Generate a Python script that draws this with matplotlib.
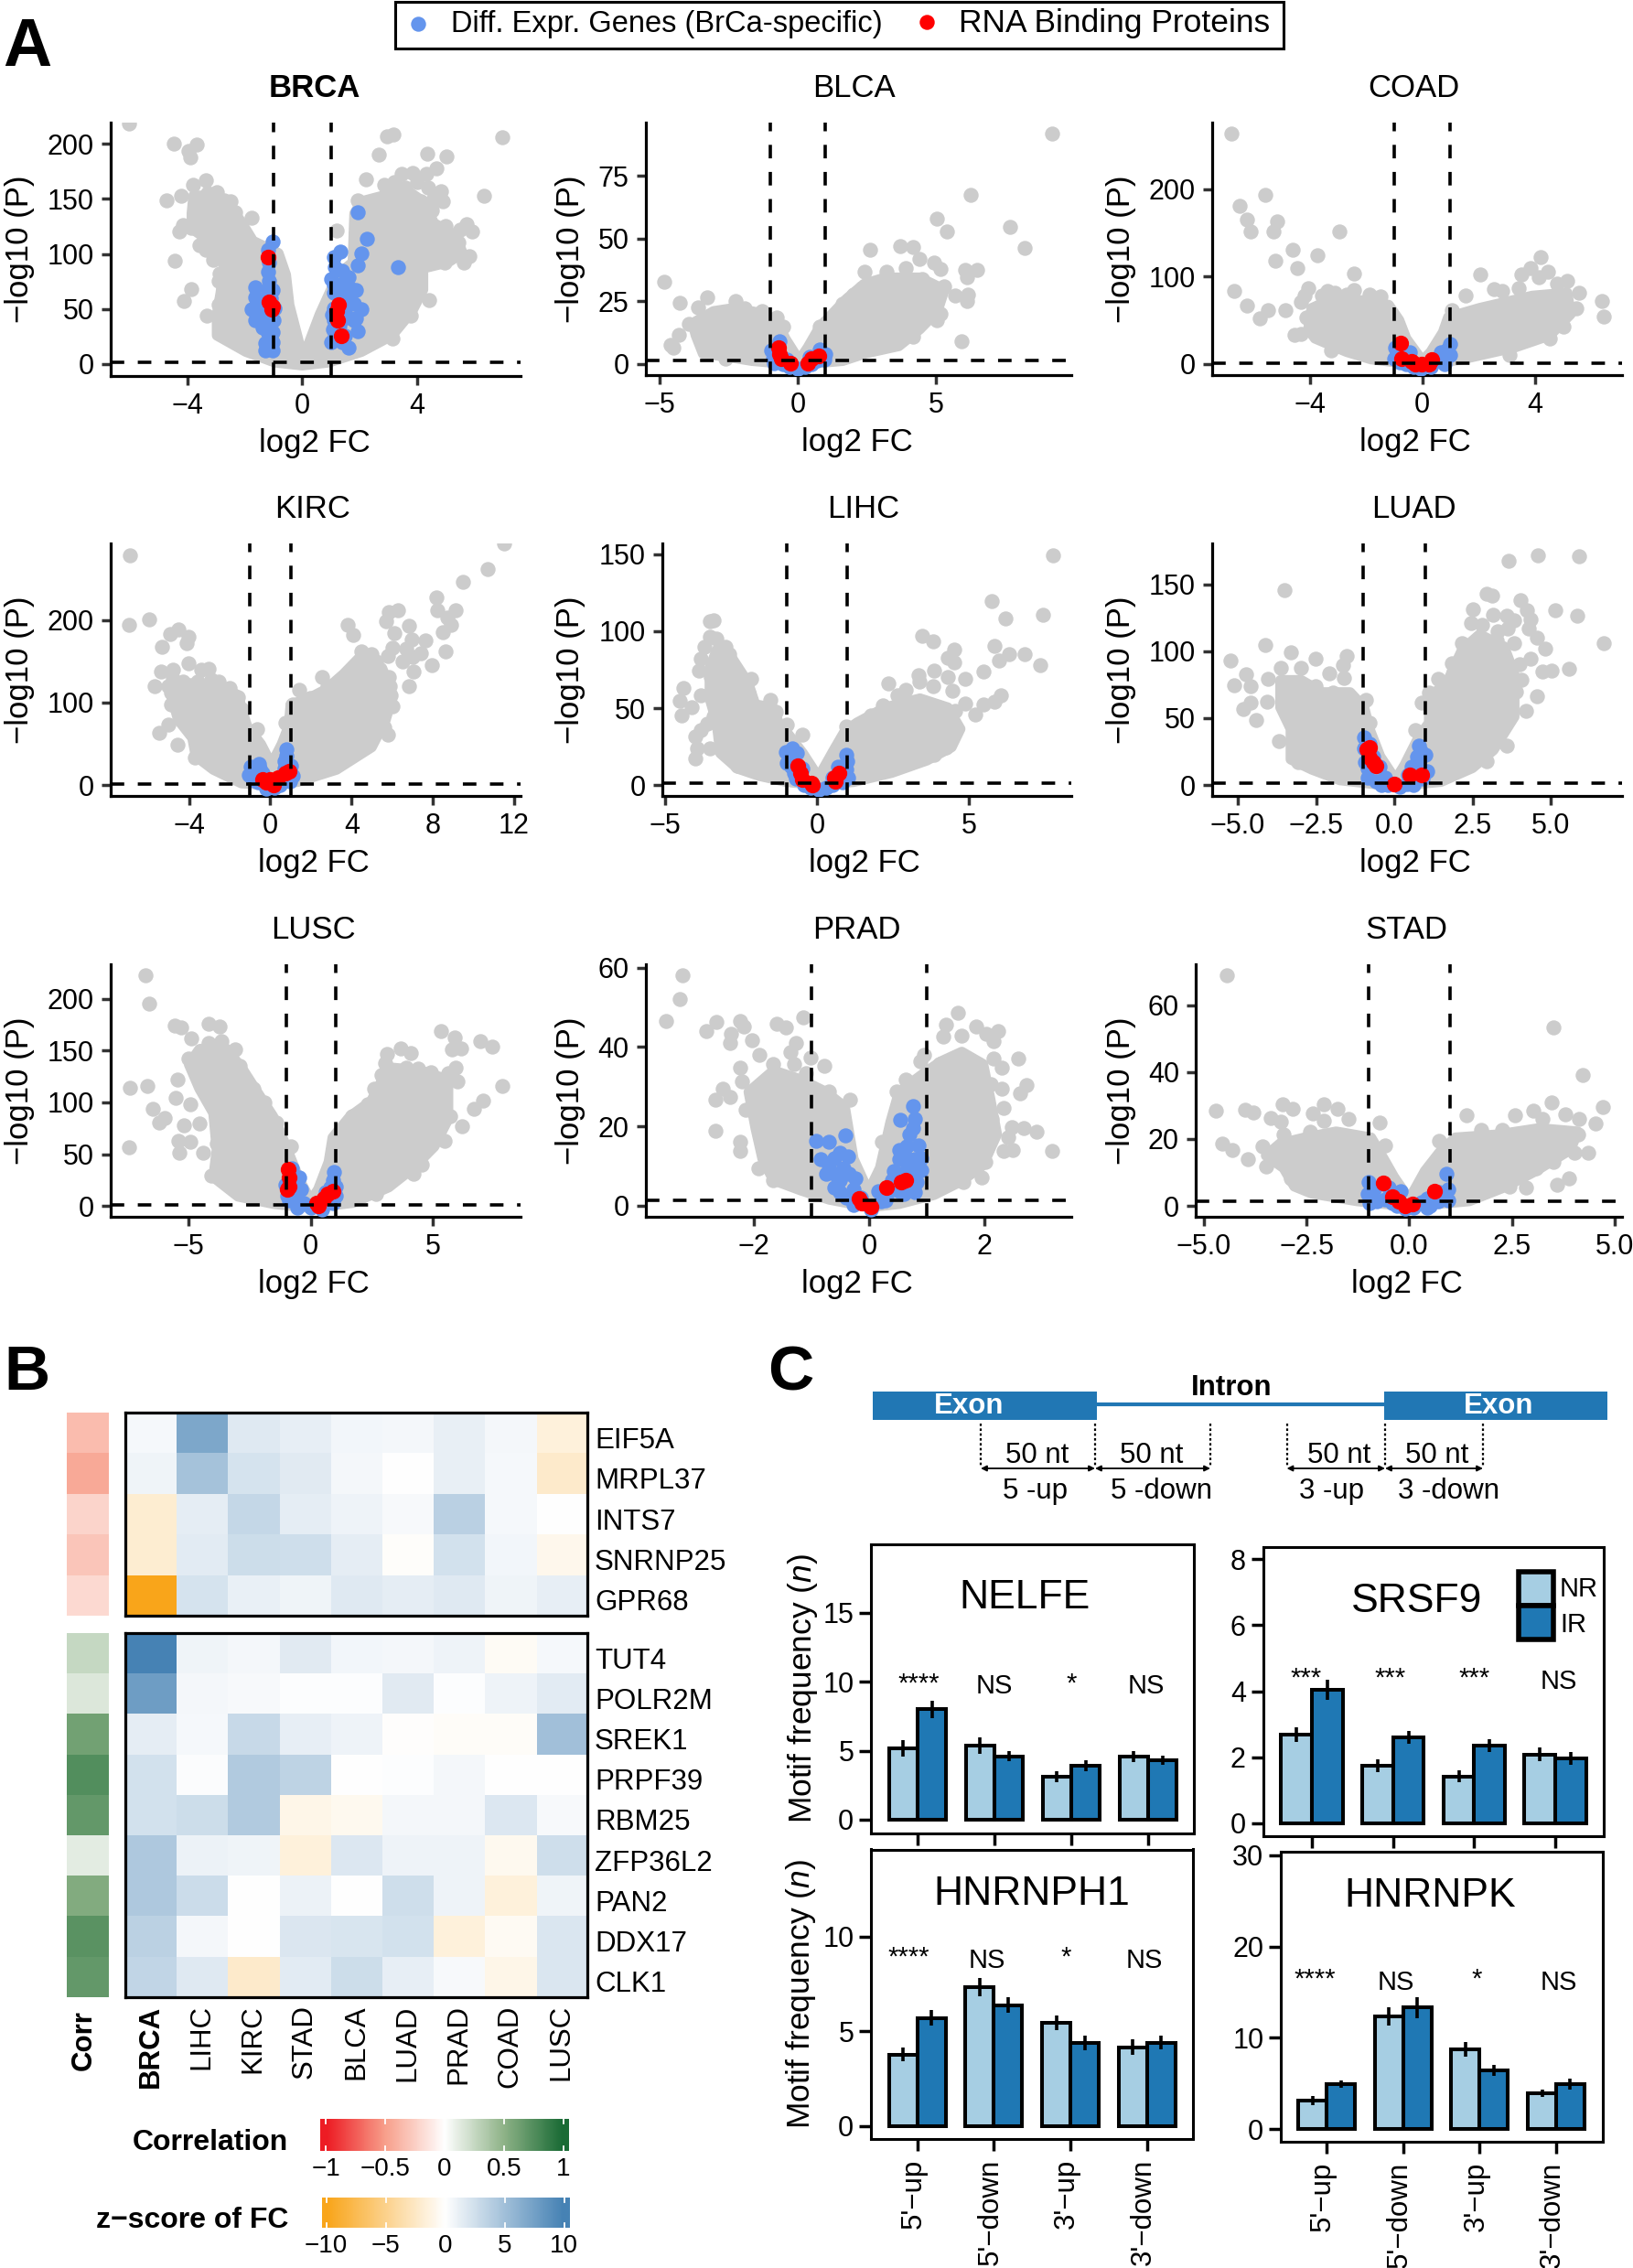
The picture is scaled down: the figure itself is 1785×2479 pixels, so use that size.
import matplotlib
matplotlib.use("Agg")
import matplotlib.pyplot as plt
import numpy as np
from matplotlib.colors import LinearSegmentedColormap
from matplotlib.patches import Rectangle
from matplotlib.transforms import ScaledTranslation

plt.rcParams['font.family'] = ['Liberation Sans', 'DejaVu Sans']
plt.rcParams['mathtext.fontset'] = 'custom'
plt.rcParams['mathtext.it'] = 'Liberation Sans:italic'
plt.rcParams['mathtext.rm'] = 'Liberation Sans'

W, H = 1785, 2479

# volcano data: body = outline of the dense cloud, gray = single points
brca_body = [(0.03,5),(-0.45,53.5),(-0.57,81),(-0.83,100.7),(-1.72,111.8),(-2.1,128),(-2.47,142),(-3.1,153),(-3.8,153),(-3.86,136.8),(-3.86,123),(-3.1,109),(-2.73,89.6),(-2.85,64.6),(-2.98,45),(-2.98,25.8),(-1.97,11),(-0.96,1.3),(0,-1.4),(0.93,1.3),(2.07,11),(3.14,25.8),(3.84,48),(4.22,67.4),(4.22,86.8),(5.1,92.4),(5.6,100.7),(5.35,117),(4.6,128),(4.22,147.8),(3.59,159),(2.83,153),(2.07,147.8),(1.82,136.8),(1.76,92.4),(1.24,81),(0.61,45)]
brca_gray = [(-6.04,218.6),(-4.47,200),(-3.67,199.7),(-3.96,194),(-3.9,188),(-3.38,166.7),(-3.8,163),(-4.24,153),(-4.75,148.7),(-2.98,156),(-2.73,149),(-2.35,138),(-1.78,132.6),(-4.18,126),(-3.87,124),(-3.36,103.5),(-4.46,93.8),(-3.89,68),(-4.14,57),(-3.33,43.8),(-2.92,53.5),(-2.92,75.7),(3.18,209),(2.95,207),(6.97,206),(2.68,190),(4.37,191),(5.04,188.6),(2.23,168),(2.85,163),(3.46,172.8),(3.86,174),(4.34,172.8),(4.68,177.5),(4.85,156.7),(6.33,153),(1.94,149),(3.71,147.8),(4.15,147.8),(4.53,139.5),(5.73,127),(5.92,120),(5.45,110),(5.82,98),(5.64,92),(4.97,92),(1.19,121.5),(1.88,118.7),(4.44,57.7),(3.78,43.8),(3.14,23),(3.2,165),(3.6,160),(4,165),(4.4,160),(4.6,150),(4.9,148),(5,125),(5.5,122),(4.8,110),(5.2,100),(4.5,100),(-3.3,155),(-3.5,150),(-2.5,148),(-4.3,120),(-3.6,108),(-3.1,95),(-2.9,82)]
brca_blue = [(-1.02,111),(-1.21,103.5),(-1.21,84),(-1.15,75.7),(-1.65,70),(-1.02,67.4),(-1.65,60.5),(-1.46,53.5),(-1.76,49.4),(-1.63,39.7),(-0.96,50.8),(-1.21,37),(-1.02,28.6),(-1.28,18.9),(-1.28,12),(-1.02,12),(-1.02,20),(-1.2,62),(-1.4,45),(-1.15,92),(-1.2,68),(-1.4,58),(-1.1,60),(-1.45,42),(-1.2,45),(-1,40),(-1.2,28),(-1.4,33),(1.92,137.6),(2.26,113.7),(2.07,100.7),(1.94,89.6),(3.33,88.2),(1.34,102),(1.12,97),(1.38,85),(1,77),(1.63,78.5),(1.88,67.4),(1.12,64.6),(1.57,57.7),(2.07,49.4),(1.12,50.8),(1.88,41),(1.94,30),(1.06,31),(1,20),(1.63,14.7),(1.38,20),(1.57,42),(1.12,39.7),(1.5,25.8),(1.4,70),(1.15,88),(1.35,72),(1.7,68),(1.1,72),(1.35,60),(1.8,55),(1.5,50),(1.8,40),(1.15,25),(1.3,35),(1.05,45)]
brca_red = [(-1.21,97.4),(-1.15,56.3),(-1.02,52),(-1.06,49.4),(1.25,53.5),(1.22,40),(1.19,48),(1.35,25.8)]

blca_body = [(0.05,1.5),(-0.45,10.2),(-0.77,17.5),(-1.41,20.5),(-2.29,22.4),(-3.05,21.1),(-3.81,16.3),(-3.69,11.4),(-3.43,4.1),(-2.67,3.1),(-1.66,1.3),(0,-0.3),(1.63,1.3),(2.46,4.3),(3.66,7.2),(4.42,13.9),(5.06,21.1),(5.31,29.7),(4.42,34.5),(3.16,34.5),(2.4,32),(1.76,26),(1.13,18.7),(0.8,15),(0.36,6.6)]
blca_gray = [(9.2,91.8),(6.26,67.3),(5.03,57.9),(5.41,52.8),(7.67,54.8),(8.2,46.3),(2.61,45.7),(3.71,47),(4.17,46.7),(4.4,41.8),(4.93,40.6),(5.15,37.9),(6.05,37.6),(6.48,37.6),(6.13,34.5),(2.43,36.7),(3.22,36.7),(3.92,38.2),(4.49,33.9),(5.31,30.9),(5,29.7),(5.69,27.5),(6.16,27.8),(6.13,25),(5.18,20),(5.03,17.5),(5.94,9.2),(4.17,10.8),(2.33,30.3),(2.02,27.8),(1.61,24.2),(0.81,15),(-4.83,32.7),(-4.28,24.6),(-3.28,26.6),(-3.62,22.6),(-3.94,15.9),(-4.32,11.7),(-4.61,7.8),(-4.49,6.6),(-2.8,20.5),(-2.26,25),(-1.91,22.4),(-1.28,21.1),(-0.77,18.7),(-0.52,15),(-2.61,2.3)]
blca_blue = [(-0.67,9),(-0.96,5.3),(-0.9,2.3),(-0.52,-0.1),(0,-1.9),(0.49,-0.1),(1,4.1),(0.81,6),(0.43,2.9),(-0.65,4.1),(-0.85,0.5),(-0.3,-1),(0.25,-1),(0.7,1.5),(0.95,2),(-0.4,2)]
blca_red = [(-0.71,6.6),(-0.67,4.1),(-0.58,2.3),(-0.27,0.5),(0.37,0.5),(0.49,2.3),(0.77,3.2)]

coad_body = [(0,4),(-0.57,29.3),(-0.82,50.3),(-1.19,67.7),(-2.06,73),(-3.31,73),(-3.93,64),(-4.05,39.8),(-3.81,29.3),(-2.69,14),(-1.82,5.5),(0,-1.5),(1.42,5.5),(3.28,19),(4.53,32.8),(5.27,57.2),(5.15,81.7),(3.91,78.2),(2.04,64.2),(0.92,53.8),(0.73,36.3),(0.29,13.6)]
coad_gray = [(-6.79,263.5),(-5.57,193.4),(-6.47,181),(-6.23,165.4),(-6.09,151.5),(-5.17,163),(-5.29,151.5),(-2.96,151.8),(-4.6,131.2),(-3.71,124.6),(-5.22,118.3),(-4.43,109.6),(-2.43,103.3),(-6.67,84),(-6.24,67),(-5.49,61.4),(-5.77,52),(-4.86,61.4),(-4.55,33.5),(-4.05,87),(-4.18,78),(-4.3,71),(-4.12,53.8),(-3.37,83.4),(-3.12,81.7),(-2.44,85),(-1.88,80),(-1.5,77.5),(-2.69,80),(-3.56,78.2),(-4.3,34.6),(-3.25,15.4),(4.19,122.5),(4.47,106),(4.15,99),(3.84,109.6),(3.53,102.6),(2.05,102.6),(1.54,78.9),(2.54,85.9),(2.85,83.4),(3.41,87),(4.78,92),(5.15,95),(5.56,81.7),(6.39,71.9),(6.43,54.5),(5.46,64),(1.04,61.4),(5.02,43.3),(4.53,29.3),(3.1,10)]
coad_blue = [(-0.95,18.8),(-1.01,6.6),(-0.45,13.6),(0.98,23),(0.98,10),(0.67,13.6),(0.42,3),(0.8,-0.3),(-0.57,-0.3),(-0.07,-5.6),(-0.8,2),(-0.3,-3),(0.3,-3),(0.6,5),(0.9,17),(-0.7,12)]
coad_red = [(-0.77,24),(-0.73,6.6),(-0.39,3),(-0.26,-0.3),(-0.01,-0.3),(0.24,-0.3),(0.32,4.9)]

kirc_body = [(0.05,25),(-0.46,49.5),(-1.15,71.7),(-1.42,93.9),(-1.59,108.7),(-2.46,121.6),(-4.02,123.5),(-4.88,108.7),(-4.54,79),(-3.84,57),(-3.67,34.8),(-2.81,18.6),(-1.42,2),(0,0),(1.35,3.8),(3.26,18.6),(4.99,45.8),(5.68,79),(6.03,108.7),(5.5,142),(4.47,156.7),(3.6,134.6),(2.74,116),(1.87,105),(1,97.6),(0.91,71.7),(0.56,49.5)]
kirc_gray = [(-6.93,278.7),(-6.96,193.7),(-5.96,201),(-4.54,189),(-4.94,182.6),(-4.02,180),(-4.1,171.5),(-5.35,167.8),(-4.02,147.5),(-3.41,140),(-3.06,140.8),(-5.4,138),(-4.8,140),(-4.8,129),(-5.7,119.8),(-2.55,125),(-4.88,112),(-4.88,97.6),(-1.59,106.8),(-1.42,92),(-0.64,68),(-5,73.6),(-5.49,63.6),(-4.59,48.8),(-3.72,32.9),(1.44,115.3),(1.96,105),(1.09,97.6),(0.74,75.4),(11.5,292.8),(10.7,262),(9.49,246.6),(8.16,227),(8.24,212),(9.14,212),(8.71,203),(8.88,193.7),(8.48,185.6),(8.62,162.3),(7.93,145.7),(5.85,210),(6.29,212),(5.68,199),(6.11,184.5),(6.81,192.6),(3.81,194.5),(4.09,181.5),(6.98,177),(7.62,175),(6.03,166),(5.77,156.7),(7.07,138),(6.81,119.8),(4.47,162.3),(4.99,158.6),(5.19,138),(2.56,130.9),(2.82,119.8),(5.77,60.6),(5.85,130.9),(5.94,108.7),(-5,120),(-4.3,125),(-3.6,125),(-2.9,128),(-2,118),(5.2,150),(5.9,120),(6,95),(5.6,70),(7,155),(6.5,150),(6.7,165),(7.4,160)]
kirc_blue = [(-0.99,21.8),(-1.07,12.6),(-0.55,25.5),(-0.38,14.4),(-0.81,5.2),(0.8,42.9),(0.69,29.2),(1,23.7),(1.09,10.7),(0.48,-0.4),(-0.21,-4),(-0.9,17),(-0.7,20),(-0.5,20),(-0.9,8),(-0.6,3),(0.8,35),(0.9,17),(0.95,5),(0.7,20),(0.2,-3)]
kirc_red = [(-0.38,7),(-0.03,7),(0.14,-0.4),(0.4,8.9),(0.74,14.4),(0.92,16.3),(-0.21,3.3)]

lihc_body = [(0.05,5),(-0.46,20.6),(-0.92,32.5),(-1.22,38.5),(-1.45,50.4),(-2.03,52.4),(-2.26,66.3),(-2.84,84),(-3.3,88),(-3.53,76),(-3.53,56.3),(-3.3,40.5),(-3.18,20.6),(-2.61,10.7),(-1.91,6),(-0.99,2),(0,0),(1.2,2),(2.47,8),(3.62,16),(4.43,24.6),(4.72,36.5),(4.31,50.4),(3.39,56.3),(2.24,50.4),(1.31,40.5),(0.9,34.5),(0.55,22.6)]
lihc_gray = [(7.77,149.6),(5.74,119.4),(6.19,108.3),(7.45,110.9),(3.45,97),(3.83,93.7),(5.84,90.5),(4.52,88),(4.31,83),(4.52,79.6),(6.33,85),(6.83,85),(5.99,81),(7.36,77.8),(5.49,73.8),(3.85,74.6),(3.33,71.2),(4.31,70.2),(4.89,69.2),(3.37,67.3),(2.35,66.3),(3.83,64.3),(4.45,61.3),(2.93,61.9),(2.64,58.3),(6.04,58.3),(5.84,54),(5.47,52.4),(4.87,52.8),(5.21,46),(4.54,48.4),(2.18,52),(1.78,45.4),(0.97,37.9),(4.54,34.5),(4.26,24.6),(3.85,19.6),(-3.53,106.3),(-3.41,107),(-3.53,96.6),(-4.39,63.3),(-4.51,54.8),(-4.13,50.4),(-4.45,45.4),(-3.88,74.2),(-3.82,82),(-3.7,90),(-2.89,85),(-2.17,69.2),(-2.26,60.3),(-1.55,55.4),(-1.36,47.4),(-0.99,39.5),(-0.47,32.5),(-3.82,58.3),(-3.82,35.5),(-3.99,31.5),(-3.93,23.6),(-3.99,17),(-3.53,23.6),(-2.61,12.7),(-3.41,44.4),(-3.3,95),(-3,90),(-2.7,75),(-3.5,70),(-3.6,40),(-2.4,55),(-2.9,50)]
lihc_blue = [(-0.82,23.6),(-1.01,21.6),(-0.99,14.3),(-0.65,20.6),(-0.76,7.7),(-0.42,-0.2),(0.05,-3.2),(0.97,19.6),(0.99,15.7),(1.03,4.8),(0.8,8.7),(0.51,-0.2),(-0.47,10.7),(-0.85,12),(-0.7,4),(-0.9,17),(-0.2,-2),(0.3,-2),(0.85,2),(0.95,10),(0.7,12),(0.5,5)]
lihc_red = [(-0.62,12.7),(-0.53,7.7),(-0.47,3.8),(-0.18,1.2),(-0.16,-0.2),(0.57,4.8),(0.72,7.7),(0.6,2.4)]

luad_body = [(0.04,4),(-0.45,21.4),(-0.79,41.9),(-0.96,57.9),(-1.41,69.3),(-2.3,69.3),(-2.97,78.4),(-3.64,78.4),(-3.64,57.9),(-3.31,41.9),(-3.31,19.1),(-2.64,11.6),(-1.74,3.6),(0,-1),(1.5,2.4),(2.5,12.7),(3.17,26),(3.84,51),(3.84,83),(3.51,103.5),(2.73,112.6),(2.17,101.2),(1.72,78.4),(1.11,64.7),(1.11,46.5),(0.76,35),(0.32,14.6)]
luad_gray = [(-3.51,146),(-4.13,104.9),(-5.23,93.2),(-3.31,99),(-2.53,94.4),(-1.52,96.6),(-1.63,89.8),(-3.64,87.5),(-2.97,87.5),(-4.74,82.5),(-5.12,74.3),(-4.59,73.9),(-4.03,79.6),(-2.08,83.7),(-1.61,80.2),(-4.07,62),(-4.59,61.3),(-4.82,56.8),(-4.42,48.8),(-3.7,32.8),(-0.91,63.6),(-2.53,73.9),(-1.97,69.3),(-0.79,46.5),(-3.08,16.9),(3.64,167.3),(4.6,171.9),(5.9,171),(2.95,142.7),(3.12,141.8),(4.04,138.4),(5.16,130.4),(5.85,126.3),(2.5,131.3),(3.17,127.4),(3.6,126.3),(4.23,130.8),(4.35,124),(2.45,121.3),(3.62,117.2),(3.84,122.9),(4.29,117),(6.69,106.2),(4.57,110.3),(4.83,101.7),(2.17,105.8),(3.84,105.8),(4.35,94.4),(4.74,84.8),(5.02,85.7),(5.58,87),(1.83,91),(1.39,79.6),(4.07,78.4),(4.55,66.6),(0.88,61.3),(1.11,69.3),(4.2,55.6),(3.6,29.4),(2.95,18),(0.66,40.8),(2.73,110.3),(3.28,108),(3,100),(3.5,95),(3.3,115),(2.8,120),(4,90),(3.9,70),(3.5,45),(1.9,85),(2.3,95)]
luad_blue = [(-0.96,35.6),(-0.96,27.1),(-0.68,21.4),(-0.93,16.9),(-0.46,13.4),(-0.85,5.5),(-0.29,5.5),(0.79,29.4),(0.99,22.6),(0.72,21.4),(0.72,14.6),(1.05,10),(0.44,7.8),(0.16,-1.4),(-0.4,-0.2),(0.6,-0.2),(-0.8,31),(-0.85,12),(-0.6,3),(-0.2,0),(0.85,25),(0.8,17),(0.9,5),(0.4,1),(0.55,14)]
luad_red = [(-0.79,27.8),(-0.87,26.4),(-0.79,20.3),(-0.68,16.9),(-0.6,14.1),(0.01,0.5),(0.49,7.8),(0.88,7.8)]

lusc_body = [(0,5),(-0.46,24.8),(-0.96,54.3),(-1.26,72),(-1.55,86.7),(-2.12,107.4),(-2.84,134),(-3.56,154.6),(-4.56,151.6),(-4.99,136.9),(-4.56,113.3),(-3.99,89.7),(-3.85,54.3),(-3.99,27.7),(-2.98,9),(-1.55,2),(0,-2),(1.75,3),(3.19,18),(4.19,36.6),(5.05,57.2),(5.62,83.8),(5.62,122),(4.48,131),(3.19,133.9),(2.47,101.5),(1.61,86.7),(0.89,66),(0.73,42.5),(0.3,16)]
lusc_gray = [(-6.76,222.7),(-6.61,195.3),(-5.57,174.3),(-5.31,172.3),(-4.2,176),(-3.73,173),(-4.88,162),(-4.2,157.5),(-3.67,159),(-3.1,151.6),(-7.39,113.9),(-6.7,116.2),(-5.47,122),(-5.52,104.4),(-4.92,98.5),(-6.46,93.5),(-6,85),(-6.21,80.8),(-5.21,77.9),(-4.56,79.4),(-5.42,63),(-5.39,51),(-7.43,57),(-4.92,61.7),(-4.42,51.3),(-4.06,29.2),(-4.99,142.8),(-2.91,135.4),(-2.34,113.3),(-1.91,100),(-1.41,80.8),(-0.83,57.2),(-3.85,60),(5.31,169.3),(5.88,162.8),(6.94,159),(7.42,153.7),(6.15,152.2),(5.77,151.6),(3.11,146.6),(3.66,152.2),(4.07,147.5),(3.04,138.3),(7.85,115.6),(7.06,101.5),(6.66,94),(6.17,77),(5.7,86.7),(5.48,63),(5.91,134),(5.62,128),(5.98,120.6),(2.58,113.3),(2.9,126.5),(4.91,129.5),(5.48,107.4),(2.32,98.5),(1.68,86.7),(4.19,30.7),(4.55,39.5),(2.68,11.5),(3.9,134),(4.4,132.4)]
lusc_blue = [(-0.76,36.6),(-0.47,27.7),(-1.05,20.4),(-0.4,16),(-0.9,5.6),(-0.55,-1.8),(0,-1.8),(0.96,33),(1.03,18.9),(0.6,13),(0.89,2.7),(0.46,-3.2),(-0.95,10),(-0.6,8),(-0.7,22),(-0.3,3),(0.9,25),(0.8,18),(0.7,5),(0.3,0),(1,10)]
lusc_red = [(-0.93,35),(-0.9,27.7),(-0.9,18.9),(-0.98,16),(0.89,14.5),(0.67,11.5),(0.53,7),(0.24,2.7),(0.29,-0.3)]

prad_body = [(-0.01,3.5),(-0.27,11.8),(-0.42,24.9),(-0.75,28.7),(-1.18,31.8),(-1.66,34.1),(-2.09,28.7),(-1.97,19.5),(-1.85,11.8),(-1.66,6.4),(-1.18,3.8),(-0.69,1.5),(0,-0.4),(0.52,0.4),(1.13,2.7),(1.61,6.2),(1.98,10.2),(2.22,18),(2.1,27.2),(1.98,35.7),(1.61,38.8),(1.25,36.4),(0.95,33.4),(0.52,28.7),(0.37,21),(0.19,9.5)]
prad_gray = [(-3.24,58.2),(-3.29,52.2),(-3.53,46.5),(-2.65,46.3),(-2.82,44),(-2.24,46.5),(-2.18,45.3),(-2.39,43.4),(-2.42,41),(-2.03,41.7),(-1.61,45.8),(-1.44,45),(-1.14,47.4),(-1.27,41),(-1.36,38.8),(-1.01,37.4),(-1.3,35.7),(-1.91,38),(-1.67,35.7),(-2.24,34.9),(-0.78,35.3),(-1.09,33.4),(-2.21,31.4),(-2.54,29.5),(-2.66,26.7),(-2.42,27.4),(-2.15,24.1),(-0.34,26.7),(-2.66,18.9),(-2.24,16),(-2.24,13.7),(-1.92,9.5),(-1.66,6.4),(-0.69,28.7),(1.54,48.6),(1.33,45.7),(1.61,42.8),(1.86,45.3),(2.24,44),(2.04,43.4),(2.16,41.4),(1.28,42.6),(0.95,38.1),(0.89,36.4),(1.22,35.7),(1.89,35.7),(2.16,37),(2.59,37),(2.31,34.9),(0.64,31.8),(2.11,30.7),(2.73,30.4),(2.31,29.5),(2.62,28.4),(0.48,28.7),(2.33,24.7),(2.13,21.8),(2.48,19.9),(2.69,19.5),(2.91,18.7),(2.42,17.2),(2.33,13.7),(2.49,14.1),(3.17,13.9),(2.01,11),(1.96,7.2),(1.64,6),(0.22,16)]
prad_blue = [(-0.42,17.8),(-0.92,16.3),(-0.69,16),(-0.51,13.3),(-0.36,12.4),(-0.84,11.8),(-0.69,10.2),(-0.45,9.5),(-0.75,7.9),(-0.51,6.4),(-0.24,6.8),(-0.51,3.3),(-0.27,4.1),(0.76,25),(0.54,21.6),(0.8,21.8),(0.76,19.5),(0.86,15.1),(0.52,14.1),(0.52,11.8),(0.8,11.8),(0.76,8.7),(0.43,8.7),(0.83,6),(0.8,3.3),(0.52,3.7),(0.16,3.7),(0.28,1.4),(-0.27,0.2),(0.04,-0.9),(0.4,6.4),(0.64,6.4),(-0.6,12),(-0.6,8),(-0.35,8),(-0.6,4.5),(-0.4,2),(-0.15,2),(0.65,12),(0.65,9),(0.65,15),(0.7,18),(0.55,6),(0.3,2.5),(0.6,3),(0.2,1),(0.9,9),(0.9,12)]
prad_red = [(-0.18,1.8),(-0.12,0.6),(0.04,-0.2),(0.31,4.6),(0.55,6),(0.63,6.5)]

stad_body = [(0,2),(-0.37,8.6),(-0.62,14),(-0.93,20.4),(-1.78,22.2),(-2.55,20.4),(-3.15,18.6),(-3.49,15),(-3.06,11.3),(-2.8,5.8),(-2.38,3.7),(-1.27,1.4),(0,-0.2),(1.46,1.4),(2.31,5.5),(3.08,10.4),(3.93,16.8),(4.1,22.2),(3.16,23.2),(2.14,21.3),(1.12,20.4),(0.73,15.9),(0.38,10.4)]
stad_gray = [(-4.44,68.8),(3.5,53.4),(4.23,39.1),(3.46,30.9),(4.71,29.5),(1.39,27),(2.57,27),(3.02,28.4),(3.8,27.3),(4.14,25.9),(4.54,24.5),(3.25,25.9),(4.36,16),(3.89,8.3),(3.59,6.3),(2.84,5.4),(1.76,22.7),(2.27,22.7),(4.1,21.3),(3.59,19.5),(4.02,15.9),(3.5,13.1),(3.08,11.3),(2.44,5.8),(-4.72,28.4),(-4,28.8),(-3.8,28),(-3.08,30.4),(-2.83,29.1),(-3.38,26.3),(-3.12,25.2),(-2.35,27.5),(-2.08,30.4),(-1.74,29.1),(-1.48,25.9),(-2.08,25.4),(-0.72,25),(-4.55,18.6),(-4.31,16.8),(-3.93,14),(-3.57,17.7),(-3.49,11.8),(-3.06,21.3),(-2.42,22.2),(-0.59,18.1),(0.73,19.5),(-2.89,8.1)]
stad_blue = [(-1,7.2),(-1.01,3.6),(-0.97,0.8),(-0.5,5.4),(-0.2,4.5),(0.9,9.5),(0.95,4.9),(0.73,4),(0.43,2.2),(0.95,1.7),(-0.42,0.8),(0.43,-0.5),(0,-0.1),(-0.8,1.5),(-0.6,2),(-0.85,5),(-0.3,0),(0.5,0),(0.7,1.5),(0.85,3),(0.6,2.5),(0.3,1),(0.1,-0.5),(-0.1,-0.7)]
stad_red = [(-0.63,6.9),(-0.4,2.6),(-0.25,1.5),(-0.09,-0.1),(0.09,0.5),(0.61,4.5)]

# heatmap values
genes_top = ['EIF5A', 'MRPL37', 'INTS7', 'SNRNP25', 'GPR68']
genes_bottom = ['TUT4', 'POLR2M', 'SREK1', 'PRPF39', 'RBM25', 'ZFP36L2', 'PAN2', 'DDX17', 'CLK1']
cancers = ['BRCA', 'LIHC', 'KIRC', 'STAD', 'BLCA', 'LUAD', 'PRAD', 'COAD', 'LUSC']
z_top = [[0.5,7.0,1.7,1.3,0.7,0.6,1.2,0.6,-1.5],
         [0.8,4.8,2.2,1.6,0.6,0,1.2,0.5,-2.2],
         [-2,1.4,3.2,1.4,0.9,0.4,3.7,0.5,0],
         [-2,1.5,2.7,2.6,1.4,-0.2,2.4,0.7,-0.8],
         [-10,2.2,1.1,0.8,1.7,1.4,1.7,0.8,1.3]]
z_bottom = [[10,0.8,0.6,1.6,0.7,0.6,0.9,-0.4,0.5],
            [7.8,0.6,0.4,0.1,0.1,1.6,0.1,0.9,1.5],
            [1.4,0.5,3,1.3,0.9,-0.1,-0.3,-0.3,5],
            [2.4,0.2,4.2,3.5,0,0.1,0.6,-0.05,0.05],
            [2.4,2.7,4.2,-1,-0.7,0.6,0.6,1.8,0.4],
            [4.3,1,0.8,-1.5,1.8,0.9,0.9,-0.7,2.6],
            [4.3,2.8,0,1,0,2.6,0.9,-1.5,0.8],
            [3.6,0.6,-0.05,1.9,2.1,2.4,-1.5,-0.5,2],
            [3.3,1.7,-2.2,1.5,2.7,1.3,0.4,-1,2]]
corr_top = [-0.35, -0.45, -0.22, -0.3, -0.2]
corr_bottom = [0.25, 0.15, 0.62, 0.75, 0.68, 0.12, 0.55, 0.72, 0.68]

# bar values
regions = ["5'\u2212up", "5'\u2212down", "3'\u2212up", "3'\u2212down"]
nelfe_nr, nelfe_ir = [5.2, 5.4, 3.1, 4.6], [8.0, 4.6, 3.9, 4.3]
nelfe_nr_err, nelfe_ir_err = [0.6, 0.6, 0.4, 0.4], [0.65, 0.35, 0.4, 0.35]
srsf9_nr, srsf9_ir = [2.69, 1.74, 1.42, 2.09], [4.05, 2.6, 2.36, 1.96]
srsf9_nr_err, srsf9_ir_err = [0.22, 0.2, 0.18, 0.2], [0.3, 0.2, 0.2, 0.2]
hnrnph1_nr, hnrnph1_ir = [3.78, 7.33, 5.46, 4.16], [5.71, 6.38, 4.38, 4.41]
hnrnph1_nr_err, hnrnph1_ir_err = [0.35, 0.5, 0.4, 0.4], [0.4, 0.4, 0.4, 0.35]
hnrnpk_nr, hnrnpk_ir = [3.16, 12.3, 8.75, 3.88], [4.93, 13.3, 6.38, 4.93]
hnrnpk_nr_err, hnrnpk_ir_err = [0.5, 1.0, 0.8, 0.4], [0.4, 1.2, 0.6, 0.6]
nelfe_sig = ['****', 'NS', '*', 'NS']
srsf9_sig = ['***', '***', '***', 'NS']
hnrnph1_sig = ['****', 'NS', '*', 'NS']
hnrnpk_sig = ['****', 'NS', '*', 'NS']

GRAY, BLUE, RED = '#CCCCCC', '#6495ED', '#FF0000'
DOT = 140

fig = plt.figure(figsize=(W / 100, H / 100), dpi=100, facecolor='white')


def make_axes(l, t, r, b):
    return fig.add_axes([l / W, 1 - b / H, (r - l) / W, (b - t) / H])


# overlay in pixel coordinates, used for the free text
ov = fig.add_axes([0, 0, 1, 1], zorder=20)
ov.set_xlim(0, W)
ov.set_ylim(H, 0)
ov.axis('off')


def volcano(name, box, xlim, ylim, xticks, yticks, body, gray, blue, red, title_x, label_x, ylab_x, bold=False):
    l, t, r, b = box
    ax = make_axes(l, t, r, b)
    ax.fill(*zip(*body), fc=GRAY, ec=GRAY, lw=8, joinstyle='round', zorder=1)
    ax.scatter(*zip(*gray), s=DOT, color=GRAY, lw=0, zorder=2)
    ax.scatter(*zip(*blue), s=DOT, color=BLUE, lw=0, zorder=3)
    ax.scatter(*zip(*red), s=155, color=RED, lw=0, zorder=4)
    for xv in [-1, 1]:
        ax.plot([xv, xv], [ylim[0], ylim[1]], color='black', lw=2.6, dashes=(4.1, 4.1),
                dash_capstyle='butt', zorder=5)
    ax.plot(xlim, [1.3, 1.3], color='black', lw=2.6, dashes=(4.1, 4.1), dash_capstyle='butt', zorder=5)
    ax.set_xlim(xlim)
    ax.set_ylim(ylim)
    ax.set_xticks(xticks)
    ax.set_yticks(yticks)
    ax.tick_params(labelsize=22, length=7, width=2.5, color='#333333', pad=6)
    ax.spines['top'].set_visible(False)
    ax.spines['right'].set_visible(False)
    ax.spines['left'].set_linewidth(2.3)
    ax.spines['bottom'].set_linewidth(2.3)
    ov.text(title_x, t - 38, name, ha='center', va='center', fontsize=25, weight='bold' if bold else 'normal')
    ov.text(label_x, b + 74, 'log2 FC', ha='center', va='center', fontsize=25)
    ov.text(ylab_x, (t + b) / 2, '\u2212log10 (P)', rotation=90, ha='center', va='center', fontsize=25)


volcano('BRCA', (120.6, 134, 569, 410.7), (-6.70, 7.62), (-10.8, 219.4), [-4, 0, 4], [0, 50, 100, 150, 200],
        brca_body, brca_gray, brca_blue, brca_red, 344, 344, 22, bold=True)
volcano('BLCA', (705.6, 134, 1171, 410), (-5.51, 9.90), (-4.38, 96.3), [-5, 0, 5], [0, 25, 50, 75],
        blca_body, blca_gray, blca_blue, blca_red, 933, 937, 623)
volcano('COAD', (1325, 134, 1773, 410), (-7.46, 7.09), (-12.6, 276.4), [-4, 0, 4], [0, 100, 200],
        coad_body, coad_gray, coad_blue, coad_red, 1545, 1547, 1225)
volcano('KIRC', (121, 594, 569, 870), (-7.86, 12.32), (-13.3, 293), [-4, 0, 4, 8, 12], [0, 100, 200],
        kirc_body, kirc_gray, kirc_blue, kirc_red, 342, 343, 22)
volcano('LIHC', (723.6, 594, 1171, 870), (-5.10, 8.37), (-7.1, 157.1), [-5, 0, 5], [0, 50, 100, 150],
        lihc_body, lihc_gray, lihc_blue, lihc_red, 944, 945, 623)
volcano('LUAD', (1325, 594, 1773, 870), (-5.82, 7.28), (-8.2, 180.6), [-5, -2.5, 0, 2.5, 5], [0, 50, 100, 150],
        luad_body, luad_gray, luad_blue, luad_red, 1545, 1547, 1225)
volcano('LUSC', (121, 1054, 569, 1330), (-8.19, 8.58), (-10.6, 233.6), [-5, 0, 5], [0, 50, 100, 150, 200],
        lusc_body, lusc_gray, lusc_blue, lusc_red, 342, 343, 22)
volcano('PRAD', (705.6, 1054, 1171, 1330), (-3.88, 3.51), (-2.84, 60.9), [-2, 0, 2], [0, 20, 40, 60],
        prad_body, prad_gray, prad_blue, prad_red, 936, 937, 623)
volcano('STAD', (1307, 1054, 1773, 1330), (-5.2, 5.18), (-3.28, 72.2), [-5, -2.5, 0, 2.5, 5], [0, 20, 40, 60],
        stad_body, stad_gray, stad_blue, stad_red, 1537, 1538, 1225)

# top legend
ov.add_patch(Rectangle((432, 1.5), 971, 51, fc='white', ec='black', lw=2.2))
ov.scatter([457], [26], s=DOT, color=BLUE, lw=0)
ov.scatter([1013], [24], s=DOT, color=RED, lw=0)
ov.text(493, 26, 'Diff. Expr. Genes (BrCa-specific)', va='center', fontsize=23.5)
ov.text(1048, 26, 'RNA Binding Proteins', va='center', fontsize=25.5)

# panel letters
ov.text(3, 72, 'A', fontsize=53, weight='bold', va='baseline')
ov.text(4, 1519, 'B', fontsize=50, weight='bold', va='baseline')
ov.text(839, 1520, 'C', fontsize=50, weight='bold', va='baseline')

# heatmaps
cmap_z = LinearSegmentedColormap.from_list('z', ['#F9A51A', '#FFFFFF', '#4682B4'])
cmap_c = LinearSegmentedColormap.from_list('c', [(0, '#ED1C24'), (0.25, '#F8A08C'), (0.5, '#FFFFFF'),
                                                 (0.75, '#8FB388'), (1, '#1A6B35')])


def heat(values, corr, genes, t, b, show_cols):
    ax = make_axes(136.5, t, 641.7, b)
    ax.imshow(values, cmap=cmap_z, vmin=-10, vmax=10, aspect='auto', interpolation='nearest')
    for s in ax.spines.values():
        s.set_linewidth(2.3)
    ax.set_yticks(range(len(genes)))
    ax.set_yticklabels(genes, fontsize=22.5)
    ax.tick_params(axis='y', left=False, labelleft=False, right=True, labelright=True, length=0, pad=6)
    ax.tick_params(axis='x', length=0, pad=6)
    # gene names sit a little below the row centres
    for tk in ax.yaxis.get_major_ticks():
        tk.label2.set_transform(tk.label2.get_transform() + ScaledTranslation(0, -0.05, fig.dpi_scale_trans))
    if show_cols:
        ax.set_xticks(range(len(cancers)))
        ax.set_xticklabels(cancers, rotation=90, fontsize=22.5)
        ax.get_xticklabels()[0].set_weight('bold')
    else:
        ax.set_xticks([])
    sx = make_axes(73, t, 119, b)
    sx.imshow(np.array(corr)[:, None], cmap=cmap_c, vmin=-1, vmax=1, aspect='auto', interpolation='nearest')
    sx.axis('off')


heat(z_top, corr_top, genes_top, 1544, 1766, False)
heat(z_bottom, corr_bottom, genes_bottom, 1785, 2183, True)
ov.text(91.5, 2197, 'Corr', rotation=90, ha='center', va='top', fontsize=22.5, weight='bold')


def color_bar(box, lim, ticks, labels, cmap, title, title_y):
    l, t, r, b = box
    ax = make_axes(l, t, r, b)
    grad = np.linspace(lim[0], lim[1], 256)[None, :]
    ax.imshow(grad, cmap=cmap, vmin=ticks[0], vmax=ticks[-1], aspect='auto', extent=[lim[0], lim[1], 0, 1])
    for tk in ticks:
        ax.plot([tk, tk], [0, 0.15], color='white', lw=1.3)
        ax.plot([tk, tk], [0.85, 1], color='white', lw=1.3)
    ax.set_xlim(lim)
    ax.set_ylim(0, 1)
    ax.set_yticks([])
    ax.set_xticks(ticks)
    ax.set_xticklabels(labels, fontsize=20)
    ax.tick_params(axis='x', length=0, pad=5)
    for s in ax.spines.values():
        s.set_visible(False)
    ov.text(315, title_y, title, ha='right', va='center', fontsize=23, weight='bold')


color_bar((350, 2316, 622, 2351), (-1.05, 1.05), [-1, -0.5, 0, 0.5, 1],
          ['\u22121', '\u22120.5', '0', '0.5', '1'], cmap_c, 'Correlation', 2342)
color_bar((352, 2401.5, 623, 2435.5), (-10.35, 10.5), [-10, -5, 0, 5, 10],
          ['\u221210', '\u22125', '0', '5', '10'], cmap_z, 'z\u2212score of FC', 2427)

# gene diagram for panel C
EXON = '#2177B4'
ov.add_patch(Rectangle((954, 1521), 244.5, 31, fc=EXON, ec='none'))
ov.add_patch(Rectangle((1513, 1521), 244, 31, fc=EXON, ec='none'))
ov.plot([1198, 1513], [1535, 1535], color=EXON, lw=3)
ov.text(1059, 1537, 'Exon', color='white', weight='bold', fontsize=22.5, ha='center', va='center')
ov.text(1638, 1537, 'Exon', color='white', weight='bold', fontsize=22.5, ha='center', va='center')
ov.text(1346, 1517, 'Intron', weight='bold', fontsize=22.5, ha='center', va='center')
for xv in [1072, 1197, 1323, 1406.5, 1514, 1621]:
    ov.plot([xv, xv], [1556, 1604], color='black', lw=1.6, ls=(0, (1.2, 1.2)))
for x0, x1, xc, lab, lc in [(1072, 1197, 1134, '5 -up', 1131), (1197, 1323, 1259, '5 -down', 1270),
                            (1406.5, 1514, 1464, '3 -up', 1455), (1514, 1621, 1571, '3 -down', 1583)]:
    ov.annotate('', xy=(x1, 1605), xytext=(x0, 1605),
                arrowprops=dict(arrowstyle='<|-|>', color='black', lw=1.3, shrinkA=0, shrinkB=0, mutation_scale=9))
    ov.text(xc, 1591, '50 nt', ha='center', va='center', fontsize=22.5)
    ov.text(lc, 1630, lab, ha='center', va='center', fontsize=22.5)


def bars(name, box, xlim, ylim, yticks, nr, ir, nr_err, ir_err, sig, sig_x, sig_y, title_xy, width, show_x):
    l, t, r, b = box
    ax = make_axes(l, t, r, b)
    xs = np.arange(4)
    ax.bar(xs - width / 2, nr, width, color='#A6CEE3', edgecolor='black', lw=2.9, zorder=2)
    ax.bar(xs + width / 2, ir, width, color='#1F78B4', edgecolor='black', lw=2.9, zorder=2)
    ax.errorbar(xs - width / 2, nr, yerr=nr_err, fmt='none', ecolor='black', elinewidth=2.6, zorder=3)
    ax.errorbar(xs + width / 2, ir, yerr=ir_err, fmt='none', ecolor='black', elinewidth=2.6, zorder=3)
    ax.set_xlim(xlim)
    ax.set_ylim(ylim)
    ax.set_xticks(xs)
    ax.set_yticks(yticks)
    if show_x:
        ax.set_xticklabels(regions, rotation=90, fontsize=22.5)
    else:
        ax.set_xticklabels([])
    ax.tick_params(length=9.5, width=2.5, labelsize=22, pad=4, color='black')
    ax.tick_params(axis='x', pad=6)
    if show_x:
        ax.tick_params(axis='x', labelsize=22.5)
        for lb in ax.get_xticklabels():
            lb.set_transform(lb.get_transform() + ScaledTranslation(-0.04, 0, fig.dpi_scale_trans))
    for s in ax.spines.values():
        s.set_linewidth(2.2)
    ov.text(title_xy[0], title_xy[1], name, ha='center', va='center', fontsize=32)
    for xv, yv, s in zip(sig_x, sig_y, sig):
        ov.text(xv, yv, s, ha='center', va='center', fontsize=21)
    return ax


bars('NELFE', (952, 1687.5, 1305, 2004), (-0.607, 3.595), (-1, 20), [0, 5, 10, 15],
     nelfe_nr, nelfe_ir, nelfe_nr_err, nelfe_ir_err, nelfe_sig,
     [1004, 1087, 1171, 1253], [1841, 1843, 1841, 1843], (1120, 1747), 0.37, False)
bars('SRSF9', (1380.6, 1691, 1753, 2007), (-0.602, 3.596), (-0.39, 8.37), [0, 2, 4, 6, 8],
     srsf9_nr, srsf9_ir, srsf9_nr_err, srsf9_ir_err, srsf9_sig,
     [1428, 1520, 1612, 1704], [1835, 1835, 1835, 1838], (1549, 1750), 0.38, False)
bars('HNRNPH1', (952, 2021.5, 1304, 2338), (-0.607, 3.6), (-0.68, 14.6), [0, 5, 10],
     hnrnph1_nr, hnrnph1_ir, hnrnph1_nr_err, hnrnph1_ir_err, hnrnph1_sig,
     [993, 1079, 1165, 1251], [2140, 2143, 2140, 2143], (1128, 2070), 0.37, True)
bars('HNRNPK', (1400, 2024, 1752, 2341), (-0.6, 3.61), (-1.4, 30.4), [0, 10, 20, 30],
     hnrnpk_nr, hnrnpk_ir, hnrnpk_nr_err, hnrnpk_ir_err, hnrnpk_sig,
     [1437, 1526, 1614, 1704], [2164, 2167, 2164, 2167], (1563, 2073), 0.37, True)

ov.text(877, 1846, 'Motif frequency ($\\mathit{n}$)', rotation=90, ha='center', va='center', fontsize=25.5)
ov.text(875, 2180, 'Motif frequency ($\\mathit{n}$)', rotation=90, ha='center', va='center', fontsize=25.5)

# NR / IR key inside SRSF9
ov.add_patch(Rectangle((1660, 1717.5), 38, 37.5, fc='#A6CEE3', ec='black', lw=4))
ov.add_patch(Rectangle((1660, 1755), 38, 37, fc='#1F78B4', ec='black', lw=4))
ov.text(1705, 1737, 'NR', va='center', fontsize=21)
ov.text(1705, 1776, 'IR', va='center', fontsize=21)

fig.savefig('out.png', dpi=100)
